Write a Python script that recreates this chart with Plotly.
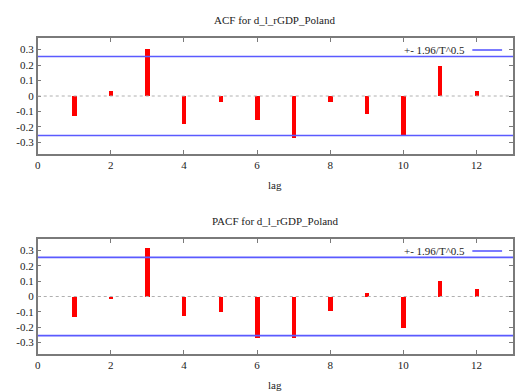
import plotly.graph_objects as go
from plotly.subplots import make_subplots

# Correlogram of d_l_rGDP_Poland
lags = [1, 2, 3, 4, 5, 6, 7, 8, 9, 10, 11, 12]
acf_values = [-0.131, 0.030, 0.304, -0.183, -0.040, -0.157, -0.271, -0.040, -0.116, -0.258, 0.196, 0.032]
pacf_values = [-0.136, -0.015, 0.318, -0.130, -0.104, -0.270, -0.270, -0.097, 0.022, -0.205, 0.104, 0.048]
bound = 0.255  # 1.96 / sqrt(T)

x_ticks = [0, 2, 4, 6, 8, 10, 12]
y_ticks = [-0.3, -0.2, -0.1, 0, 0.1, 0.2, 0.3]
y_ticktext = ["-0.3", "-0.2", "-0.1", "0", "0.1", "0.2", "0.3"]
titles = ["ACF for d_l_rGDP_Poland", "PACF for d_l_rGDP_Poland"]
legend_text = "+- 1.96/T^0.5"

FONT = "Liberation Serif"
FRAME = "#7a7a7a"
BLUE = "#5a5aff"

W, H = 515, 392
fig = make_subplots(rows=2, cols=1)

# pixel boxes of the two panels (top, bottom)
panels = [(38, 154), (239, 354)]
x0_px, x1_px = 35, 514

for i, (vals, (top, bot)) in enumerate(zip([acf_values, pacf_values], panels), start=1):
    fig.add_trace(go.Bar(x=lags, y=vals, width=0.12, marker=dict(color="#ff0000", line_width=0),
                         showlegend=False), row=i, col=1)
    for s in (1, -1):
        fig.add_trace(go.Scatter(x=[0, 13], y=[s * bound, s * bound], mode="lines",
                                 line=dict(color=BLUE, width=1.6), showlegend=False,
                                 hoverinfo="skip"), row=i, col=1)
    fig.add_hline(y=0, line=dict(color="#b0b0b0", width=1, dash="dot"), row=i, col=1)

    ydom = [1 - bot / H, 1 - top / H]
    xdom = [x0_px / W, x1_px / W]
    axx = "xaxis" if i == 1 else f"xaxis{i}"
    axy = "yaxis" if i == 1 else f"yaxis{i}"
    fig.layout[axx].update(domain=xdom, range=[0, 13], tickvals=x_ticks, ticks="inside",
                           ticklen=4, tickcolor=FRAME, mirror="ticks", showline=True,
                           linecolor=FRAME, linewidth=1.5, showgrid=False, zeroline=False,
                           tickfont=dict(family=FONT, size=11, color="#222"))
    fig.layout[axy].update(domain=ydom, range=[-0.375, 0.375], tickvals=y_ticks,
                           ticktext=y_ticktext, ticks="inside", ticklen=4, tickcolor=FRAME,
                           mirror="ticks", showline=True, linecolor=FRAME, linewidth=1.5,
                           showgrid=False, zeroline=False,
                           tickfont=dict(family=FONT, size=11, color="#222"))

    # panel title and x-axis label
    fig.add_annotation(text=titles[i - 1], x=(x0_px + x1_px) / 2 / W, y=1 - (top - 18) / H,
                       xref="paper", yref="paper", showarrow=False, yanchor="middle",
                       font=dict(family=FONT, size=11, color="#222"))
    fig.add_annotation(text="lag", x=(x0_px + x1_px) / 2 / W, y=1 - (bot + 31) / H,
                       xref="paper", yref="paper", showarrow=False, yanchor="middle",
                       font=dict(family=FONT, size=11, color="#222"))

    # key: text followed by a line sample, top right inside the panel
    ky = 1 - (top + 12) / H
    fig.add_annotation(text=legend_text, x=468 / W, y=ky, xref="paper", yref="paper",
                       showarrow=False, xanchor="right", yanchor="middle",
                       font=dict(family=FONT, size=11, color="#222"))
    fig.add_shape(type="line", xref="paper", yref="paper", x0=473 / W, x1=503 / W,
                  y0=ky, y1=ky, line=dict(color=BLUE, width=1.6))

fig.update_layout(width=W, height=H, margin=dict(l=0, r=0, t=0, b=0),
                  plot_bgcolor="white", paper_bgcolor="white", bargap=0)
fig.write_html("out.html")
